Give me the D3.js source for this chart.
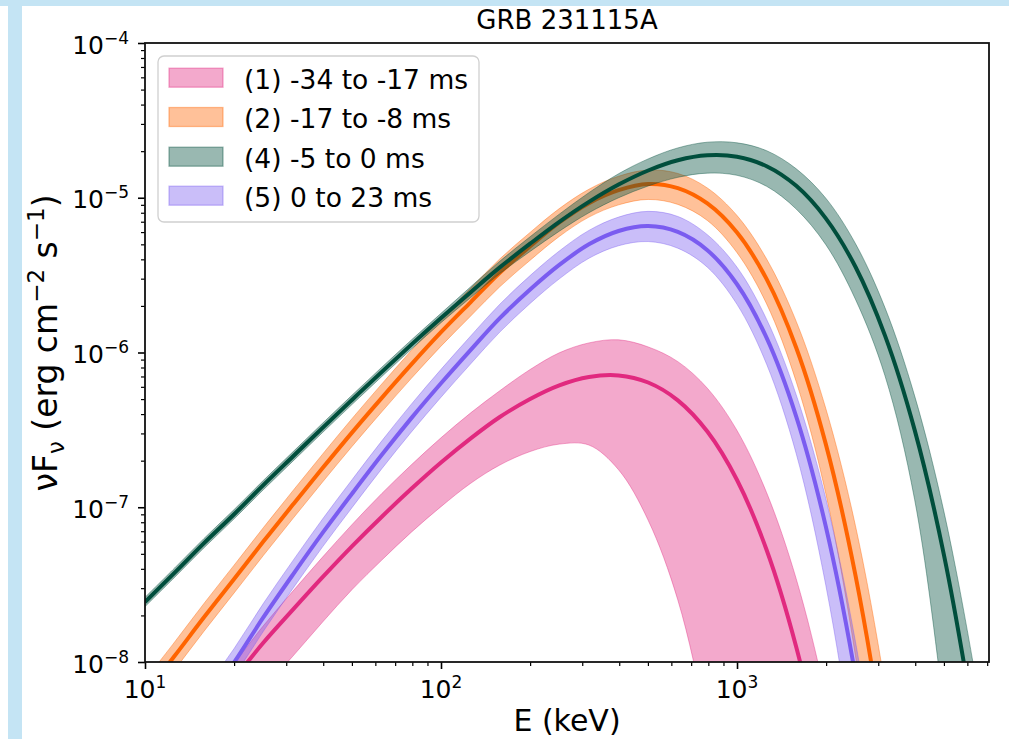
<!DOCTYPE html>
<html>
<head>
<meta charset="utf-8">
<script src="https://cdn.jsdelivr.net/npm/d3@7"></script>
<style>
  body { margin: 0; background: #fff; }
  svg { display: block; font-family: "DejaVu Sans", sans-serif; }
</style>
</head>
<body>
<div id="chart"></div>
<script>
// Energy grid in keV (shared by all series).
var energy = [10, 12.6, 15.8, 20, 25.1, 31.6, 39.8, 50.1, 63.1, 79.4, 100, 126, 158, 200, 251,
              316, 398, 501, 631, 794, 1000, 1259, 1585, 1995, 2512, 3162, 3981, 5012, 6310, 7079];

var labels = ['(1) -34 to -17 ms', '(2) -17 to -8 ms', '(4) -5 to 0 ms', '(5) 0 to 23 ms'];

// log10(nuFnu) of the best fit, and the lower / upper widths of the band (dex).
var flux_1 = [-8.75, -8.533, -8.319, -8.106, -7.876, -7.662, -7.452, -7.251, -7.061, -6.881, -6.711, -6.555, -6.417,
              -6.300, -6.212, -6.158, -6.148, -6.194, -6.309, -6.511, -6.824, -7.276, -7.903, -8.749, -9.874];
var lo_1 = [0.30, 0.30, 0.30, 0.30, 0.30, 0.30, 0.29, 0.28, 0.28, 0.28, 0.285, 0.29, 0.31,
            0.34, 0.38, 0.44, 0.61, 0.89, 1.29, 1.9, 2.6, 3.5, 4.5, 5.5, 6.5];
var hi_1 = [0.10, 0.10, 0.10, 0.10, 0.11, 0.12, 0.13, 0.14, 0.15, 0.155, 0.16, 0.165, 0.17,
            0.19, 0.21, 0.22, 0.23, 0.23, 0.25, 0.28, 0.32, 0.37, 0.44, 0.52, 0.62];

var flux_2 = [-8.207, -7.960, -7.713, -7.464, -7.222, -6.983, -6.747, -6.516, -6.293, -6.077, -5.869, -5.674, -5.485,
              -5.314, -5.160, -5.035, -4.951, -4.911, -4.938, -5.037, -5.225, -5.526, -5.969, -6.592, -7.439, -8.571, -10.06];
var lo_2 = [0.09, 0.09, 0.09, 0.09, 0.09, 0.09, 0.09, 0.09, 0.09, 0.09, 0.09, 0.09, 0.09, 0.09, 0.09, 0.09,
            0.095, 0.10, 0.105, 0.11, 0.13, 0.16, 0.22, 0.32, 0.52, 0.8, 1.2];
var hi_2 = [0.09, 0.09, 0.09, 0.09, 0.09, 0.09, 0.09, 0.09, 0.09, 0.09, 0.09, 0.09, 0.09, 0.09, 0.09, 0.09, 0.09, 0.09,
            0.095, 0.10, 0.11, 0.13, 0.17, 0.23, 0.32, 0.42, 0.55];

var flux_4 = [-7.612, -7.422, -7.233, -7.045, -6.857, -6.672, -6.487, -6.305, -6.125, -5.949, -5.777, -5.610, -5.450,
              -5.297, -5.156, -5.027, -4.915, -4.824, -4.758, -4.726, -4.735, -4.796, -4.923, -5.133, -5.446,
              -5.891, -6.500, -7.317, -8.395, -9.052];
var lo_4 = [0.03, 0.03, 0.03, 0.03, 0.03, 0.03, 0.03, 0.03, 0.03, 0.03, 0.03, 0.035, 0.04, 0.05, 0.06,
            0.07, 0.085, 0.10, 0.11, 0.115, 0.12, 0.13, 0.15, 0.17, 0.21, 0.26, 0.45, 1.0, 1.6, 2.0];
var hi_4 = [0.03, 0.03, 0.03, 0.03, 0.03, 0.03, 0.03, 0.03, 0.03, 0.03, 0.03, 0.035, 0.04, 0.045, 0.05,
            0.06, 0.07, 0.075, 0.08, 0.085, 0.09, 0.10, 0.11, 0.13, 0.15, 0.18, 0.22, 0.28, 0.36, 0.40];

var flux_5 = [-8.848, -8.561, -8.281, -8.003, -7.712, -7.435, -7.166, -6.911, -6.661, -6.424, -6.199, -5.983, -5.778,
              -5.593, -5.434, -5.301, -5.215, -5.183, -5.221, -5.339, -5.559, -5.906, -6.414, -7.124, -8.088, -9.373];
var lo_5 = [0.09, 0.09, 0.09, 0.09, 0.09, 0.09, 0.09, 0.09, 0.09, 0.09, 0.09, 0.09, 0.09, 0.09, 0.09, 0.09,
            0.095, 0.10, 0.105, 0.11, 0.13, 0.17, 0.24, 0.38, 0.6, 0.9];
var hi_5 = [0.09, 0.09, 0.09, 0.09, 0.09, 0.09, 0.09, 0.09, 0.09, 0.09, 0.09, 0.09, 0.09, 0.09, 0.09, 0.09, 0.09,
            0.095, 0.10, 0.10, 0.11, 0.12, 0.14, 0.18, 0.22, 0.3];

var x_major = [10, 100, 1000];
var x_exp = ['1', '2', '3'];
var y_major = [1e-8, 1e-7, 1e-6, 1e-5, 1e-4];
var y_exp = ['\u22128', '\u22127', '\u22126', '\u22125', '\u22124'];

var colors = ['#e1297f', '#ff6400', '#004e3c', '#7a5cf0'];

var chart_width = 1009;
var chart_height = 739;
var plot_left = 145, plot_right = 989, plot_top = 43, plot_bottom = 662;

var x_scale = d3.scaleLog().domain([10, 7100]).range([plot_left, plot_right]);
var y_scale = d3.scaleLog().domain([1e-8, 1e-4]).range([plot_bottom, plot_top]);

var svg = d3.select('#chart')
            .append('svg')
            .attr('width', chart_width)
            .attr('height', chart_height);

// Light blue strips of the page around the figure.
svg.append('rect').attr('x', 0).attr('y', 0).attr('width', chart_width).attr('height', 6).attr('fill', '#c4e4f4');
svg.append('rect').attr('x', 8).attr('y', 6).attr('width', 14).attr('height', chart_height - 6).attr('fill', '#c4e4f4');

svg.append('clipPath').attr('id', 'plot-clip')
   .append('rect')
   .attr('x', plot_left).attr('y', plot_top)
   .attr('width', plot_right - plot_left).attr('height', plot_bottom - plot_top);

function build(flux, lo, hi) {
  return flux.map(function(f, i) {
    return {e: energy[i], f: f, lo: lo[i], hi: hi[i]};
  });
}

var series = [build(flux_1, lo_1, hi_1), build(flux_2, lo_2, hi_2),
              build(flux_4, lo_4, hi_4), build(flux_5, lo_5, hi_5)];

var band = d3.area()
             .x(function(d) { return x_scale(d.e); })
             .y0(function(d) { return y_scale(Math.pow(10, d.f - d.lo)); })
             .y1(function(d) { return y_scale(Math.pow(10, d.f + d.hi)); })
             .curve(d3.curveCatmullRom.alpha(0.5));

var fit = d3.line()
            .x(function(d) { return x_scale(d.e); })
            .y(function(d) { return y_scale(Math.pow(10, d.f)); })
            .curve(d3.curveCatmullRom.alpha(0.5));

var plot = svg.append('g').attr('clip-path', 'url(#plot-clip)');

series.forEach(function(s, i) {
  plot.append('path')
      .attr('d', band(s))
      .attr('fill', colors[i])
      .attr('fill-opacity', 0.4)
      .attr('stroke', colors[i])
      .attr('stroke-opacity', 0.4)
      .attr('stroke-width', 1);
  plot.append('path')
      .attr('d', fit(s))
      .attr('fill', 'none')
      .attr('stroke', colors[i])
      .attr('stroke-width', 4);
});

// Ticks: minor ones are everything that is not a power of ten.
function is_major(v) {
  var l = Math.log10(v);
  return Math.abs(l - Math.round(l)) < 1e-6;
}
var x_minor = x_scale.ticks().filter(function(v) { return !is_major(v); });
var y_minor = y_scale.ticks().filter(function(v) { return !is_major(v); });

function style_axis(g, w) {
  g.select('.domain').remove();
  g.selectAll('line').attr('stroke', '#000').attr('stroke-width', w);
}

svg.append('g').attr('transform', 'translate(0,' + plot_bottom + ')')
   .call(d3.axisBottom(x_scale).tickValues(x_minor).tickSize(4).tickFormat(''))
   .call(style_axis, 1.2);
svg.append('g').attr('transform', 'translate(0,' + plot_bottom + ')')
   .call(d3.axisBottom(x_scale).tickValues(x_major).tickSize(7).tickFormat(''))
   .call(style_axis, 1.6);
svg.append('g').attr('transform', 'translate(' + plot_left + ',0)')
   .call(d3.axisLeft(y_scale).tickValues(y_minor).tickSize(4).tickFormat(''))
   .call(style_axis, 1.2);
svg.append('g').attr('transform', 'translate(' + plot_left + ',0)')
   .call(d3.axisLeft(y_scale).tickValues(y_major).tickSize(7).tickFormat(''))
   .call(style_axis, 1.6);

// Plot frame.
svg.append('rect')
   .attr('x', plot_left).attr('y', plot_top)
   .attr('width', plot_right - plot_left).attr('height', plot_bottom - plot_top)
   .attr('fill', 'none')
   .attr('stroke', '#111')
   .attr('stroke-width', 1.8);

// Power-of-ten tick labels.
function power_label(sel, exp) {
  sel.append('tspan').text('10');
  sel.append('tspan').attr('dy', -10).attr('font-size', '17px').text(exp);
}

x_major.forEach(function(v, i) {
  svg.append('text')
     .attr('x', x_scale(v))
     .attr('y', plot_bottom + 36)
     .attr('text-anchor', 'middle')
     .style('font-size', '25px')
     .call(power_label, x_exp[i]);
});

y_major.forEach(function(v, i) {
  svg.append('text')
     .attr('x', 129)
     .attr('y', y_scale(v) + 10.5)
     .attr('text-anchor', 'end')
     .style('font-size', '25px')
     .call(power_label, y_exp[i]);
});

// Title and axis labels.
svg.append('text')
   .attr('x', (plot_left + plot_right) / 2)
   .attr('y', 29)
   .attr('text-anchor', 'middle')
   .style('font-size', '26px')
   .text('GRB 231115A');

svg.append('text')
   .attr('x', (plot_left + plot_right) / 2)
   .attr('y', 731)
   .attr('text-anchor', 'middle')
   .style('font-size', '30px')
   .text('E (keV)');

var y_label = svg.append('text')
   .attr('transform', 'translate(57,343) rotate(-90)')
   .attr('text-anchor', 'middle')
   .style('font-size', '33px');
y_label.append('tspan').text('\u03bdF');
y_label.append('tspan').attr('dy', 7).attr('font-size', '23px').text('\u03bd');
y_label.append('tspan').attr('dy', -7).text(' (erg cm');
y_label.append('tspan').attr('dy', -13).attr('font-size', '23px').text('\u22122');
y_label.append('tspan').attr('dy', 13).text(' s');
y_label.append('tspan').attr('dy', -13).attr('font-size', '23px').text('\u22121');
y_label.append('tspan').attr('dy', 13).text(')');

// Legend.
var legend = svg.append('g');
legend.append('rect')
      .attr('x', 158).attr('y', 56)
      .attr('width', 321).attr('height', 166)
      .attr('rx', 6)
      .attr('fill', '#fff')
      .attr('fill-opacity', 0.8)
      .attr('stroke', '#d0d0d0')
      .attr('stroke-width', 1.3);

var row_y = [77.7, 117, 156.7, 195.7];
labels.forEach(function(t, i) {
  legend.append('rect')
        .attr('x', 169).attr('y', row_y[i] - 9.5)
        .attr('width', 54).attr('height', 19)
        .attr('fill', colors[i]).attr('fill-opacity', 0.4)
        .attr('stroke', colors[i]).attr('stroke-opacity', 0.4)
        .attr('stroke-width', 1.3);
  legend.append('text')
        .attr('x', 244)
        .attr('y', row_y[i] + 11)
        .style('font-size', '26.5px')
        .text(t);
});
</script>
</body>
</html>
